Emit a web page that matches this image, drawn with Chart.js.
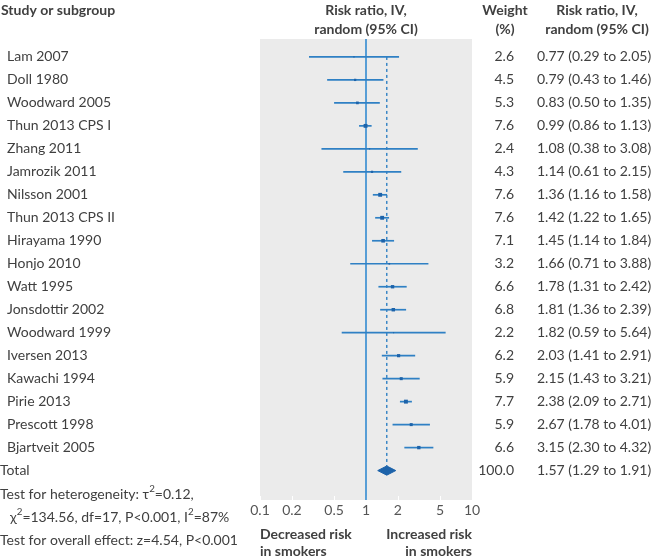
<!DOCTYPE html>
<html>
<head>
<meta charset="utf-8">
<script src="https://cdn.jsdelivr.net/npm/chart.js@4/dist/chart.umd.min.js"></script>
<style>
html,body{margin:0;padding:0;background:#fff;}
#wrap{width:657px;height:560px;position:relative;}
</style>
</head>
<body>
<div id="wrap"><canvas id="c" width="657" height="560"></canvas></div>
<script>
// ---- data ----
const studies = ["Lam 2007","Doll 1980","Woodward 2005","Thun 2013 CPS I","Zhang 2011","Jamrozik 2011","Nilsson 2001","Thun 2013 CPS II","Hirayama 1990","Honjo 2010","Watt 1995","Jonsdottir 2002","Woodward 1999","Iversen 2013","Kawachi 1994","Pirie 2013","Prescott 1998","Bjartveit 2005"];
const rr     = [0.77,0.79,0.83,0.99,1.08,1.14,1.36,1.42,1.45,1.66,1.78,1.81,1.82,2.03,2.15,2.38,2.67,3.15];
const lower  = [0.29,0.43,0.50,0.86,0.38,0.61,1.16,1.22,1.14,0.71,1.31,1.36,0.59,1.41,1.43,2.09,1.78,2.30];
const upper  = [2.05,1.46,1.35,1.13,3.08,2.15,1.58,1.65,1.84,3.88,2.42,2.39,5.64,2.91,3.21,2.71,4.01,4.32];
const weight = [2.6,4.5,5.3,7.6,2.4,4.3,7.6,7.6,7.1,3.2,6.6,6.8,2.2,6.2,5.9,7.7,5.9,6.6];
const totalLabel = "Total";
const totalRR = 1.57, totalLo = 1.29, totalHi = 1.91, totalWeight = 100.0;
const tickValues = [0.1,0.2,0.5,1,2,5,10];
const tickLabels = ["0.1","0.2","0.5","1","2","5","10"];

// ---- styles ----
const FONT = "Lato, 'Noto Sans', sans-serif";
const TXT = "#404040";
const LINE = "#2f80c4";
const MARK = "#1d63aa";
const VLINE = "#3f91d3";
const BG = "#ebebeb";
const totalRow = studies.length;
const yMin = -0.78, yMax = 19.28;

const ciDatasets = studies.map((s,i)=>({
  type:'scatter', showLine:true, data:[{x:lower[i],y:i},{x:upper[i],y:i}],
  borderColor:LINE, borderWidth:1.7, pointRadius:0, order:3
}));

const datasets = [
  {type:'scatter', showLine:true, data:[{x:1,y:yMin},{x:1,y:yMax}], borderColor:VLINE, borderWidth:1.7, pointRadius:0, order:5},
  {type:'scatter', showLine:true, data:[{x:totalRR,y:0},{x:totalRR,y:totalRow-0.2}], borderColor:LINE, borderWidth:1.4, borderDash:[3,3], pointRadius:0, order:4},
  ...ciDatasets,
  {type:'scatter', data:rr.map((v,i)=>({x:v,y:i})), pointStyle:'rect',
   pointRadius:(ctx)=>weight[ctx.dataIndex]*0.36, backgroundColor:MARK, borderWidth:0, order:1},
  {type:'scatter', showLine:true, fill:'shape',
   data:[{x:totalLo,y:totalRow},{x:totalRR,y:totalRow-0.2},{x:totalHi,y:totalRow},{x:totalRR,y:totalRow+0.2},{x:totalLo,y:totalRow}],
   borderColor:MARK, backgroundColor:MARK, borderWidth:1, pointRadius:0, order:0}
];

const bgPlugin = {
  id:'bg',
  beforeDraw(chart){
    const {ctx, chartArea:a} = chart;
    ctx.save(); ctx.fillStyle = BG; ctx.fillRect(a.left, a.top, a.right-a.left, a.bottom-a.top);
    const xs = chart.scales.x;
    ctx.strokeStyle = '#ffffff'; ctx.lineWidth = 1;
    tickValues.forEach(v=>{ const px = Math.round(xs.getPixelForValue(v))+0.5; ctx.beginPath(); ctx.moveTo(px,a.bottom-4); ctx.lineTo(px,a.bottom); ctx.stroke(); });
    ctx.restore();
  }
};

function sup(ctx, parts, x, y, size){
  let cx = x;
  parts.forEach(([t,s])=>{
    ctx.font = (s? (size*0.7).toFixed(1) : size) + "px " + FONT;
    ctx.fillText(t, cx, s ? y-5 : y);
    cx += ctx.measureText(t).width;
  });
}

const textPlugin = {
  id:'texts',
  afterDraw(chart){
    const {ctx} = chart;
    const ys = chart.scales.y, xs = chart.scales.x, a = chart.chartArea;
    const fs = 14;
    ctx.save();
    ctx.fillStyle = TXT; ctx.textBaseline = 'middle';
    ctx.font = "bold "+fs+"px "+FONT;
    ctx.textAlign='left'; ctx.fillText("Study or subgroup", 1, 10);
    ctx.textAlign='center';
    const cx1 = xs.getPixelForValue(1);
    ctx.fillText("Risk ratio, IV,", cx1, 10); ctx.fillText("random (95% CI)", cx1, 29);
    ctx.fillText("Weight", 505, 10); ctx.fillText("(%)", 505, 29);
    ctx.fillText("Risk ratio, IV,", 597, 10); ctx.fillText("random (95% CI)", 597, 29);
    ctx.font = fs+"px "+FONT;
    studies.forEach((s,i)=>{
      const y = ys.getPixelForValue(i);
      ctx.textAlign='left'; ctx.fillText(s, 7, y);
      ctx.textAlign='right'; ctx.fillText(weight[i].toFixed(1), 514, y);
      ctx.textAlign='left'; ctx.fillText(rr[i].toFixed(2)+" ("+lower[i].toFixed(2)+" to "+upper[i].toFixed(2)+")", 537, y);
    });
    const yt = ys.getPixelForValue(totalRow);
    ctx.textAlign='left'; ctx.fillText(totalLabel, 0, yt);
    ctx.textAlign='right'; ctx.fillText(totalWeight.toFixed(1), 514, yt);
    ctx.textAlign='left'; ctx.fillText(totalRR.toFixed(2)+" ("+totalLo.toFixed(2)+" to "+totalHi.toFixed(2)+")", 537, yt);
    ctx.textAlign='left';
    sup(ctx, [["Test for heterogeneity: \u03C4",false],["2",true],["=0.12,",false]], 0, 494, fs);
    sup(ctx, [["\u03C7",false],["2",true],["=134.56, df=17, P<0.001, I",false],["2",true],["=87%",false]], 10, 517, fs);
    ctx.font = fs+"px "+FONT;
    ctx.fillText("Test for overall effect: z=4.54, P<0.001", 0, 540);
    ctx.font = "bold "+fs+"px "+FONT;
    ctx.textAlign='left'; ctx.fillText("Decreased risk", a.left, 534); ctx.fillText("in smokers", a.left, 551);
    ctx.textAlign='right'; ctx.fillText("Increased risk", a.right, 534); ctx.fillText("in smokers", a.right, 551);
    ctx.restore();
  }
};

Chart.defaults.font.family = FONT;
new Chart(document.getElementById('c'), {
  type:'scatter',
  data:{datasets},
  options:{
    responsive:false, animation:false, devicePixelRatio:1,
    layout:{padding:{left:260, right:185, top:39, bottom:40}},
    plugins:{legend:{display:false}, tooltip:{enabled:false}},
    scales:{
      x:{type:'logarithmic', min:0.1, max:10,
         afterBuildTicks:(s)=>{ s.ticks = tickValues.map(v=>({value:v})); },
         afterFit:(s)=>{ s.height = 20; },
         ticks:{autoSkip:false, maxRotation:0, padding:2, color:'#555', font:{size:14},
                callback:(v)=>{ const k = tickValues.indexOf(v); return k>=0 ? tickLabels[k] : ''; }},
         grid:{display:false, drawTicks:false}, border:{display:false}},
      y:{type:'linear', min:yMin, max:yMax, reverse:true, display:false}
    }
  },
  plugins:[bgPlugin, textPlugin]
});
</script>
</body>
</html>
